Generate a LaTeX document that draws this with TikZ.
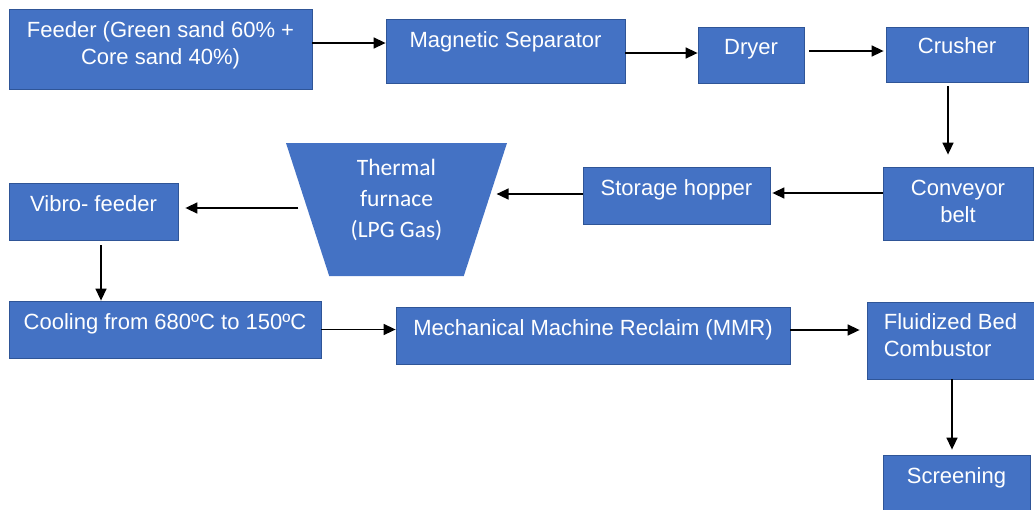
\documentclass[tikz,border=0pt]{standalone}
\usepackage{fontspec}
\setmainfont{Liberation Sans}
\newfontfamily\furnfont{Carlito}
\usepackage{xcolor}
\usetikzlibrary{arrows.meta,positioning,calc,shapes.geometric}
\definecolor{boxblue}{HTML}{4472C4}
\definecolor{boxedge}{HTML}{2F5597}
\begin{document}
\begin{tikzpicture}[x=1pt,y=-1pt,>={Triangle[length=12pt,width=11pt]},
  box/.style={draw=boxedge,line width=0.8pt,fill=boxblue,text=white,inner sep=0pt,
    font=\fontsize{22}{27}\selectfont},
  onebox/.style={box,text height=15pt},
  flow/.style={->,line width=1.5pt}]
  \clip (0,0) rectangle (1034,509);
  % top row
  \node[box,minimum width=303pt,minimum height=80pt,align=center,text depth=11pt](feeder) at (160.5,49){Feeder (Green sand 60\% +\\Core sand 40\%)};
  \node[onebox,minimum width=239pt,minimum height=64pt,text depth=22pt](magsep) at (505.5,51){Magnetic Separator};
  \node[onebox,minimum width=106pt,minimum height=56pt,text depth=16pt](dryer) at (751,55){Dryer};
  \node[onebox,minimum width=142pt,minimum height=55pt,text depth=17pt](crusher) at (957,54.5){Crusher};
  % middle row
  \node[box,minimum width=150pt,minimum height=73pt,align=center,text depth=5pt](conveyor) at (958,203.5){Conveyor\\belt};
  \node[onebox,minimum width=187pt,minimum height=57pt,text depth=15pt](storage) at (676.5,195.5){Storage hopper};
  \node[trapezium,shape border rotate=180,trapezium angle=72,trapezium stretches body,
    minimum width=221pt,inner ysep=0pt,inner xsep=5pt,text height=94.6pt,text depth=38.4pt,
    fill=boxblue,text=white,align=center,
    font=\furnfont\fontsize{23.5}{31}\selectfont](furnace) at (396.5,209.5){Thermal\\furnace\\(LPG Gas)};
  \node[onebox,minimum width=169pt,minimum height=57pt,text depth=15pt](vibro) at (93.5,211.5){Vibro- feeder};
  % bottom row
  \node[onebox,minimum width=312pt,minimum height=57pt,text depth=15pt](cooling) at (165,329.5){Cooling from 680ºC to 150ºC};
  \node[onebox,minimum width=394pt,minimum height=57pt,text depth=15pt](mmr) at (593,335.5){Mechanical Machine Reclaim (MMR)};
  \node[box,minimum width=167pt,minimum height=77pt,align=left,text depth=11pt](fbc) at (950.5,340.5){Fluidized Bed\\Combustor};
  \node[onebox,minimum width=147pt,minimum height=65pt,text depth=23pt](screening) at (956.5,487.5){Screening};
  % connectors
  \draw[flow] ([yshift=6pt]feeder.east) -- ([yshift=6pt]feeder.east -| magsep.west);
  \draw[flow] ([yshift=-2pt]magsep.east) -- ([yshift=-2pt]magsep.east -| dryer.west);
  \draw[flow,shorten <=5pt,shorten >=2pt] ([yshift=4pt]dryer.east) -- ([yshift=4pt]dryer.east -| crusher.west);
  \draw[flow,shorten <=4pt,shorten >=12pt] ([xshift=-9pt]crusher.south) -- ([xshift=-9pt]crusher.south |- conveyor.north);
  \draw[flow,shorten >=2pt] ([yshift=2.5pt]conveyor.west |- storage.east) -- ([yshift=2.5pt]storage.east);
  \draw[flow,shorten >=11pt] ([yshift=1.5pt]storage.west) -- ([yshift=1.5pt]furnace.east |- storage.west);
  \draw[flow,shorten <=9pt,shorten >=7pt] ([yshift=1.5pt]furnace.west) -- ([yshift=1.5pt]vibro.east |- furnace.west);
  \draw[flow,shorten <=5pt] ([xshift=7.5pt]vibro.south) -- ([xshift=7.5pt]vibro.south |- cooling.north);
  \draw[flow] (cooling.east) -- (cooling.east -| mmr.west);
  \draw[flow,shorten >=7pt] ([yshift=5.5pt]mmr.east) -- ([yshift=5.5pt]mmr.east -| fbc.west);
  \draw[flow,shorten >=5pt] ([xshift=1.5pt]fbc.south) -- ([xshift=1.5pt]fbc.south |- screening.north);
\end{tikzpicture}
\end{document}
